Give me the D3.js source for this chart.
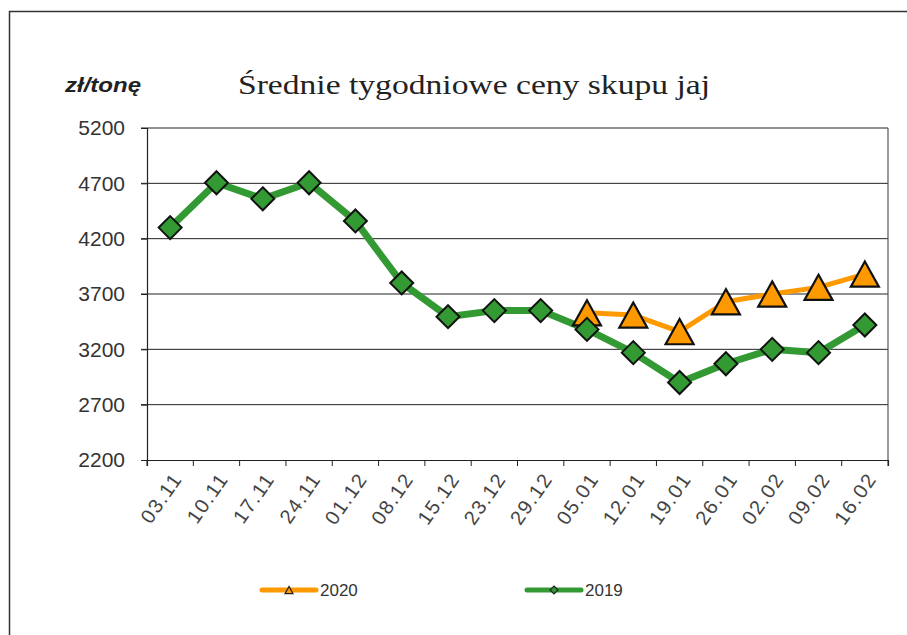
<!DOCTYPE html>
<html><head><meta charset="utf-8">
<script src="https://cdn.jsdelivr.net/npm/d3@7/dist/d3.min.js"></script>
<style>body{margin:0;background:#fff}svg{display:block}</style>
</head><body>
<script>
const categories = ["03.11","10.11","17.11","24.11","01.12","08.12","15.12","23.12","29.12","05.01","12.01","19.01","26.01","02.02","09.02","16.02"];
const values2019 = [4300,4705,4560,4705,4360,3800,3495,3550,3550,3380,3170,2900,3070,3200,3170,3420];
const values2020 = [null,null,null,null,null,null,null,null,null,3530,3510,3360,3630,3700,3760,3880];
const yTicks = [2200,2700,3200,3700,4200,4700,5200];
const seriesNames = ["2020","2019"];

const W = 907, H = 635;
const svg = d3.select("body").append("svg").attr("width", W).attr("height", H);

svg.append("path").attr("d", `M9.5,${H} V11.5 H${W}`).attr("fill","none").attr("stroke","#333").attr("stroke-width",1.5);

const L = 147, R = 888, T = 128, B = 460;
const x = d3.scaleBand().domain(categories).range([L, R]);
const y = d3.scaleLinear().domain([2200, 5200]).range([B, T]);

svg.append("g").selectAll("line").data(yTicks.filter(d => d > 2200)).join("line")
  .attr("x1", L - 6).attr("x2", R).attr("y1", d => y(d)).attr("y2", d => y(d))
  .attr("stroke", "#222").attr("stroke-width", 1);
svg.append("line").attr("x1", R).attr("x2", R).attr("y1", T).attr("y2", B).attr("stroke","#555").attr("stroke-width",1.2);

const yAxis = svg.append("g").attr("transform", `translate(${L},0)`)
  .call(d3.axisLeft(y).tickValues(yTicks).tickSize(6).tickPadding(16).tickFormat(d3.format("d")));
yAxis.select(".domain").attr("stroke", "#222").attr("stroke-width", 1.2);
yAxis.selectAll(".tick line").attr("stroke", "#222");
yAxis.selectAll("text").attr("font-family", "Liberation Sans, Arial, sans-serif").attr("font-size", 21).attr("fill", "#333");

const xAxis = svg.append("g").attr("transform", `translate(0,${B})`)
  .call(d3.axisBottom(x).tickSize(6).tickFormat(""));
xAxis.select(".domain").attr("stroke", "#222").attr("stroke-width", 1.2);
xAxis.selectAll(".tick").remove();
const bounds = d3.range(categories.length + 1).map(i => L + i * x.bandwidth());
xAxis.append("g").selectAll("line").data(bounds).join("line")
  .attr("x1", d => d).attr("x2", d => d).attr("y1", 0).attr("y2", 6).attr("stroke", "#222");
xAxis.append("g").selectAll("text").data(categories).join("text")
  .attr("transform", d => `translate(${x(d) + x.bandwidth()/2 + 7},${15}) rotate(-55)`)
  .attr("text-anchor", "end").attr("dy", "0.35em").attr("letter-spacing", 1.5)
  .attr("font-family", "Liberation Sans, Arial, sans-serif").attr("font-size", 20).attr("fill", "#444")
  .text(d => d);

const cx = d => x(d) + x.bandwidth() / 2;
const green = "#339933", orange = "#FF9900";

const d2019 = categories.map((c, i) => ({c, v: values2019[i]}));
const d2020 = categories.map((c, i) => ({c, v: values2020[i]})).filter(d => d.v != null);
const line = d3.line().x(d => cx(d.c)).y(d => y(d.v));

svg.append("path").datum(d2020).attr("d", line).attr("fill","none").attr("stroke", orange).attr("stroke-width", 5).attr("stroke-linejoin","round");
svg.append("path").datum(d2019).attr("d", line).attr("fill","none").attr("stroke", green).attr("stroke-width", 7).attr("stroke-linejoin","round");

const tri = (s) => { const h = s * 0.9, w = s; return `M0,${-h/2} L${w/2},${h/2} L${-w/2},${h/2} Z`; };
const diamond = (s) => `M0,${-s/2} L${s/2},0 L0,${s/2} L${-s/2},0 Z`;

svg.append("g").selectAll("path").data(d2020).join("path")
  .attr("transform", d => `translate(${cx(d.c)},${y(d.v)})`)
  .attr("d", tri(28)).attr("fill", orange).attr("stroke", "#111").attr("stroke-width", 2.2).attr("stroke-linejoin","miter");
svg.append("g").selectAll("path").data(d2019).join("path")
  .attr("transform", d => `translate(${cx(d.c)},${y(d.v)})`)
  .attr("d", diamond(23)).attr("fill", green).attr("stroke", "#111").attr("stroke-width", 2);

svg.append("text").attr("x", 65).attr("y", 92).attr("font-family", "Liberation Sans, Arial, sans-serif")
  .attr("font-size", 21).attr("font-weight", "bold").attr("font-style", "italic").attr("fill", "#222")
  .attr("textLength", 76).attr("lengthAdjust", "spacingAndGlyphs").text("zł/tonę");
svg.append("text").attr("x", 238).attr("y", 94).attr("font-family", "Liberation Serif, DejaVu Serif, serif")
  .attr("font-size", 28).attr("fill", "#222").attr("textLength", 472).attr("lengthAdjust", "spacingAndGlyphs")
  .text("Średnie tygodniowe ceny skupu jaj");

const lg = svg.append("g");
const legendItems = [{name: seriesNames[0], color: orange, x: 262, mk: "tri"}, {name: seriesNames[1], color: green, x: 527, mk: "dia"}];
legendItems.forEach(it => {
  lg.append("line").attr("x1", it.x).attr("x2", it.x + 54).attr("y1", 590).attr("y2", 590)
    .attr("stroke", it.color).attr("stroke-width", 5).attr("stroke-linecap", "round");
  lg.append("path").attr("transform", `translate(${it.x + 27},590)`)
    .attr("d", it.mk === "tri" ? tri(8) : diamond(8))
    .attr("fill", it.color).attr("stroke", "#222").attr("stroke-width", 1.2);
  lg.append("text").attr("x", it.x + 58).attr("y", 596).attr("font-family", "Liberation Sans, Arial, sans-serif")
    .attr("font-size", 17).attr("fill", "#333").text(it.name);
});
</script>
</body></html>
